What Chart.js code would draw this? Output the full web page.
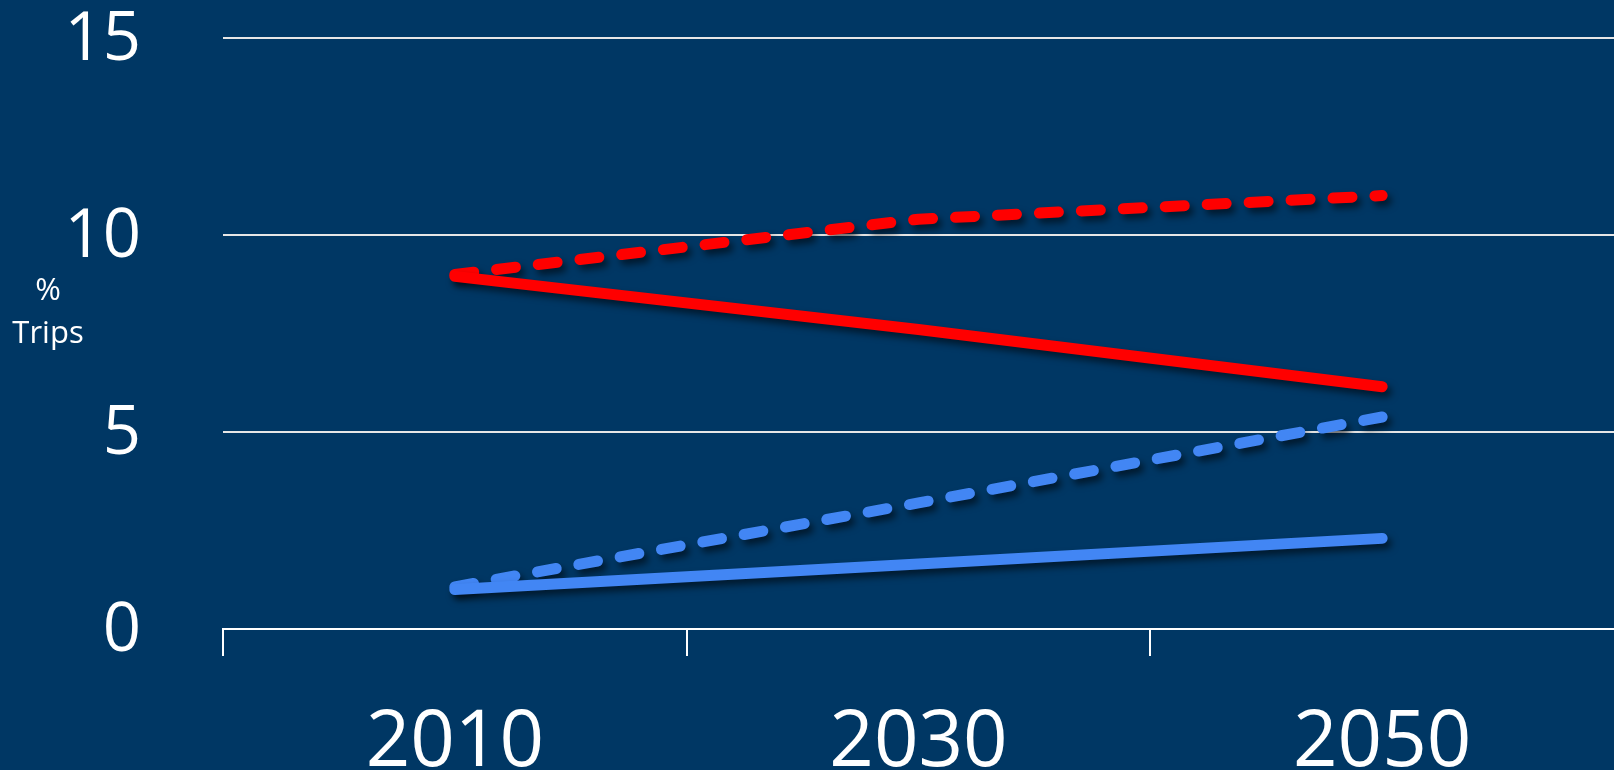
<!DOCTYPE html>
<html lang="en">
<head>
  <meta charset="UTF-8">
  <title>Trips share projection</title>
  <script src="https://cdn.jsdelivr.net/npm/chart.js"></script>
  <style>
    html, body {
      margin: 0;
      padding: 0;
      background-color: #003764;
      overflow: hidden;
    }
    canvas { display: block; }
  </style>
</head>
<body>
  <canvas id="tripsChart" width="1614" height="770"></canvas>

  <script>
    // Chart data
    const years = ["2010", "2030", "2050"];
    const redSolid = [8.95, 7.6, 6.15];
    const redDashed = [9.0, 10.4, 11.0];
    const blueSolid = [1.0, 1.65, 2.3];
    const blueDashed = [1.07, 3.2, 5.38];
    const yTicks = [0, 5, 10, 15];
    const axisTitle = ["%", "Trips"];

    const RED = "#ff0000";
    const BLUE = "#4286f4";

    // soft drop shadow under every line
    const lineShadow = {
      id: "lineShadow",
      beforeDatasetDraw(chart) {
        const ctx = chart.ctx;
        ctx.save();
        ctx.shadowColor = "rgba(0, 0, 0, 0.55)";
        ctx.shadowBlur = 7;
        ctx.shadowOffsetX = 4;
        ctx.shadowOffsetY = 5;
      },
      afterDatasetDraw(chart) {
        chart.ctx.restore();
      }
    };

    // "% Trips" label to the left of the value axis
    const sideTitle = {
      id: "sideTitle",
      afterDraw(chart) {
        const ctx = chart.ctx;
        ctx.save();
        ctx.fillStyle = "#ffffff";
        ctx.font = "31px 'Open Sans'";
        ctx.textAlign = "center";
        ctx.textBaseline = "middle";
        ctx.fillText(axisTitle[0], 48, 291);
        ctx.fillText(axisTitle[1], 48, 334);
        ctx.restore();
      }
    };

    function line(data, color, dashed) {
      return {
        data: data,
        borderColor: color,
        backgroundColor: color,
        borderWidth: 11,
        borderCapStyle: "round",
        borderJoinStyle: "round",
        borderDash: dashed ? [19, 23] : [],
        pointRadius: 0,
        tension: 0,
        fill: false
      };
    }

    new Chart(document.getElementById("tripsChart"), {
      type: "line",
      data: {
        labels: years,
        datasets: [
          line(blueSolid, BLUE, false),
          line(blueDashed, BLUE, true),
          line(redSolid, RED, false),
          line(redDashed, RED, true)
        ]
      },
      options: {
        responsive: false,
        animation: false,
        layout: { padding: { top: 38, left: 0, right: 0, bottom: 0 } },
        plugins: {
          legend: { display: false },
          tooltip: { enabled: false }
        },
        scales: {
          x: {
            type: "category",
            offset: true,
            afterFit(scale) {
              scale.height = 141;
              scale.paddingLeft = 0;
              scale.paddingRight = 0;
              scale.paddingTop = 0;
              scale.paddingBottom = 0;
            },
            grid: {
              offset: true,
              drawOnChartArea: false,
              drawTicks: true,
              tickLength: 27,
              // the extra closing line on the right edge gets no tick mark
              color: (c) => c.type === "tick" ? "#ffffff" : "rgba(0,0,0,0)",
              lineWidth: 2
            },
            border: { display: true, color: "#ffffff", width: 2 },
            ticks: {
              color: "#ffffff",
              padding: 49,
              maxRotation: 0,
              font: { family: "'Open Sans'", size: 78, lineHeight: 1 }
            }
          },
          y: {
            min: 0,
            max: 15,
            afterFit(scale) {
              scale.width = 223;
              scale.paddingTop = 0;
              scale.paddingBottom = 0;
            },
            afterBuildTicks(scale) {
              scale.ticks = yTicks.map(v => ({ value: v }));
            },
            grid: {
              drawTicks: false,
              color: "#e6e6e6",
              lineWidth: 2
            },
            border: { display: false },
            ticks: {
              color: "#ffffff",
              padding: 82,
              labelOffset: 3,
              font: { family: "'Open Sans'", size: 67, lineHeight: 1 }
            }
          }
        }
      },
      plugins: [lineShadow, sideTitle]
    });
  </script>
</body>
</html>
